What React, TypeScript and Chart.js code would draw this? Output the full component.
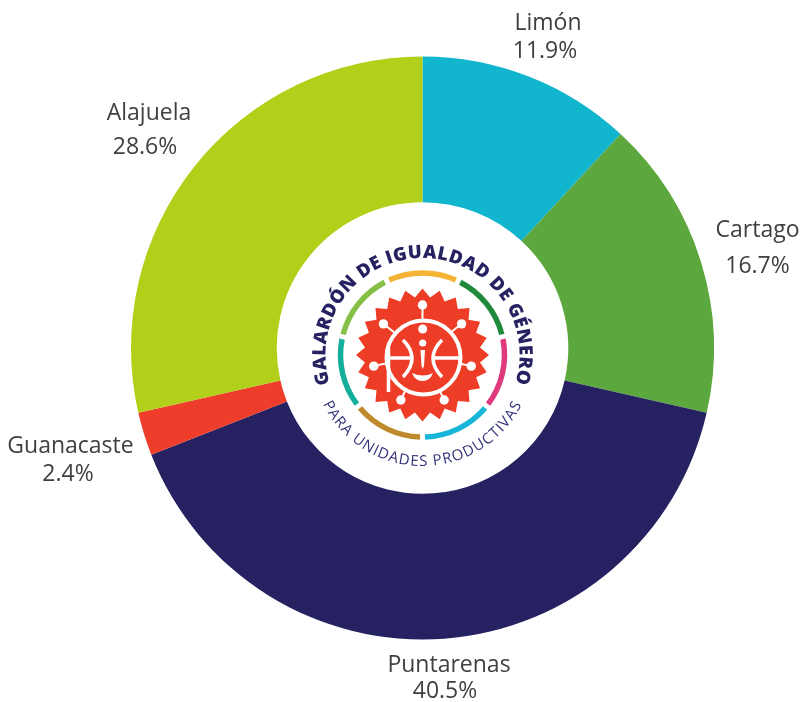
import React, { useEffect, useRef } from "react";
import { Chart, registerables } from "chart.js";

Chart.register(...registerables);

const categories = ["Limón", "Cartago", "Puntarenas", "Guanacaste", "Alajuela"];
const shares = [11.9, 16.7, 40.5, 2.4, 28.6];
const shareLabels = ["11.9%", "16.7%", "40.5%", "2.4%", "28.6%"];
const sliceColors = ["#12B5CE", "#5CA73E", "#262261", "#EE3D2A", "#B2CF19"];
const ringColors = ["#F5B335", "#1F8A3C", "#DE3A7C", "#17B6D8", "#BE8A2B", "#14AE9C", "#86BF45"];

// name centre x,y and value centre x,y of each outside label, in page pixels
const labelSpots = [
  [548, 23.5, 545, 51.5],
  [757.5, 230.5, 757.5, 266.5],
  [449, 665.5, 445, 691.5],
  [70.5, 446.5, 68, 474.5],
  [149, 113.5, 145, 147.5],
];

const outsideLabels = {
  id: "outsideLabels",
  afterDraw(chart: any) {
    const ctx = chart.ctx;
    ctx.save();
    ctx.font = '23px "Open Sans"';
    ctx.fillStyle = "#404040";
    ctx.textAlign = "center";
    ctx.textBaseline = "middle";
    categories.forEach((name, i) => {
      const s = labelSpots[i];
      ctx.fillText(name, s[0], s[1]);
      ctx.fillText(shareLabels[i], s[2], s[3]);
    });
    ctx.restore();
  },
};

const CX = 422.5;
const CY = 355;
const polar = (r: number, deg: number) => {
  const a = (deg * Math.PI) / 180;
  return [CX + r * Math.sin(a), CY - r * Math.cos(a)];
};
const arcPath = (r: number, from: number, to: number) => {
  const [x1, y1] = polar(r, from);
  const [x2, y2] = polar(r, to);
  return `M${x1} ${y1}A${r} ${r} 0 ${Math.abs(to - from) > 180 ? 1 : 0} ${to > from ? 1 : 0} ${x2} ${y2}`;
};
const burstPoints = () => {
  const pts: string[] = [];
  for (let i = 0; i < 48; i++) {
    const [x, y] = polar(i % 2 ? 58 : 66.5, i * 7.5);
    pts.push(`${x},${y}`);
  }
  return pts.join(" ");
};
const spokes = [0, 1, 2, 3, 4, 5, 6].map((i) => (i * 360) / 7);

function Logo() {
  const red = "#EE3D26";
  return (
    <svg width={800} height={702} style={{ position: "absolute", left: 0, top: 0 }}>
      <path id="topArc" d={arcPath(97, -125, 125)} fill="none" />
      <path id="bottomArc" d={arcPath(111, 270, 90)} fill="none" />
      <text fontFamily='"Open Sans"' fontWeight={800} fontSize={18.5} fill="#262261" textAnchor="middle" letterSpacing={0.4}>
        <textPath href="#topArc" startOffset="50%">GALARDÓN DE IGUALDAD DE GÉNERO</textPath>
      </text>
      <text fontFamily='"Open Sans"' fontSize={15} fill="#33327A" textAnchor="middle" letterSpacing={1.1}>
        <textPath href="#bottomArc" startOffset="50%">PARA UNIDADES PRODUCTIVAS</textPath>
      </text>
      {ringColors.map((c, i) => {
        const start = -24 + (i * 360) / 7;
        return <path key={c} d={arcPath(82, start, start + 48)} fill="none" stroke={c} strokeWidth={5.5} />;
      })}
      <polygon points={burstPoints()} fill={red} />
      {spokes.map((d) => {
        const [x1, y1] = polar(36, d);
        const [x2, y2] = polar(50, d);
        return (
          <g key={d}>
            <line x1={x1} y1={y1} x2={x2} y2={y2} stroke="#fff" strokeWidth={2} />
            <circle cx={x2} cy={y2} r={4.7} fill="#fff" />
          </g>
        );
      })}
      <circle cx={423.5} cy={357.5} r={37} fill={red} stroke="#fff" strokeWidth={4} />
      <g fill="none" stroke="#fff" strokeWidth={3.5}>
        <path d="M388.5 348V392" />
        <path d="M388 358H412" />
        <path d="M433 358H459" />
        <path d="M403 340Q421 358 403 377" />
        <path d="M442 340Q424 358 442 377" />
      </g>
      <circle cx={422.7} cy={329} r={4.5} fill="#fff" />
      <circle cx={422.7} cy={343} r={3.6} fill="#fff" />
      <path d="M420.5 350H425L424 366L422.7 369L421.5 366Z" fill="#fff" />
      <path d="M412 373Q423 378 433 373Q430 381 422.5 381Q415 381 412 373Z" fill="#fff" />
    </svg>
  );
}

export default function App() {
  const canvasRef = useRef<HTMLCanvasElement>(null);

  useEffect(() => {
    const chart = new Chart(canvasRef.current!, {
      type: "doughnut",
      data: {
        labels: categories,
        datasets: [{ data: shares, backgroundColor: sliceColors, borderWidth: 0 }],
      },
      options: {
        responsive: false,
        animation: false,
        cutout: "50%",
        rotation: 0,
        layout: { padding: { left: 131, right: 86, top: 56.5, bottom: 62.5 } },
        plugins: { legend: { display: false }, tooltip: { enabled: false } },
      },
      plugins: [outsideLabels],
    } as any);
    return () => chart.destroy();
  }, []);

  return (
    <div style={{ position: "absolute", left: 0, top: 0, width: 800, height: 702, background: "#fff", overflow: "hidden" }}>
      <canvas ref={canvasRef} width={800} height={702} style={{ position: "absolute", left: 0, top: 0 }} />
      <Logo />
    </div>
  );
}
